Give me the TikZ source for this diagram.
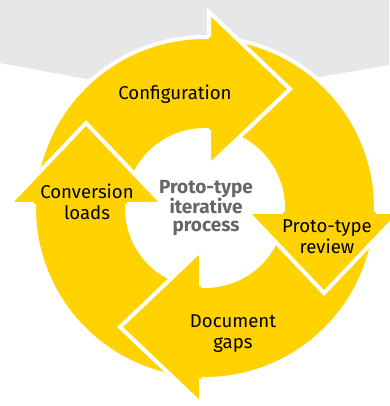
\documentclass[tikz,border=0pt]{standalone}
\usepackage{fontspec}
\setmainfont{Fira Sans}
\definecolor{eyyellow}{HTML}{FFD200}
\definecolor{bandgray}{HTML}{E7E7E7}
\definecolor{hubgray}{HTML}{666666}

\begin{document}
\begin{tikzpicture}[x=1pt,y=1pt,
    stagetext/.style={align=center,font=\fontsize{18.6}{21}\selectfont},
    hubtext/.style={align=center,text=hubgray,font=\bfseries\fontsize{19}{18}\selectfont},
    ring/.style={fill=eyyellow,draw=white,line width=4pt},
    headline/.style={draw=white,line width=4pt}]
  \useasboundingbox (0,0) rectangle (389,406);
  \fill[bandgray] (0,406) -- (389,406) -- (389,341) -- (194.5,307) -- (0,343) -- cycle;
  \coordinate (c) at (205,198);

  % the ring of shafts
  \path[ring,even odd rule] (c) circle (171) (c) circle (78);

  % one head per quarter, clockwise
  \foreach \a in {90,0,-90,180}{
    \begin{scope}[shift={(c)},rotate=\a-90]
      \fill[eyyellow] (4,196) -- (85,119) -- (4,42) -- cycle;
      \draw[headline] (4,171) -- (4,196) -- (85,119) -- (4,42) -- (4,78);
    \end{scope}
  }

  \node[stagetext] (config) at (175,312) {Configuration};
  \node[stagetext] (review) at (327,169) {Proto-type\\review};
  \node[stagetext] (gaps) at (233,72) {Document\\gaps};
  \node[stagetext] (loads) at (87,204) {Conversion\\loads};
  \node[hubtext] (hub) at (206,198) {Proto-type\\iterative\\process};
\end{tikzpicture}
\end{document}
